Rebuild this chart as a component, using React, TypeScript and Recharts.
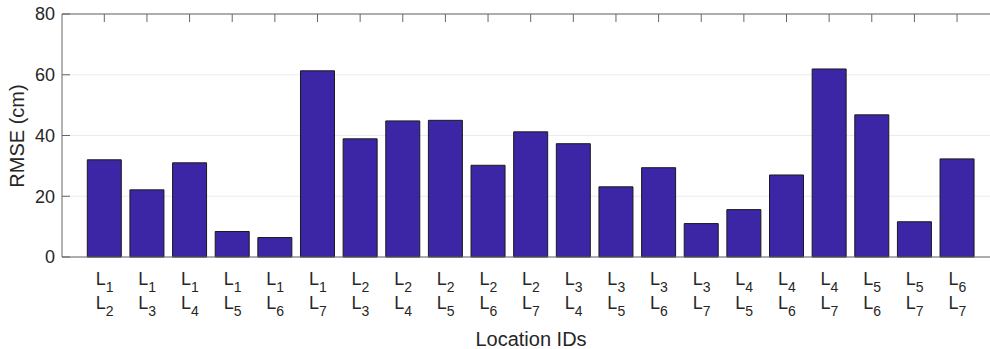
import { FC } from 'react'
import { Bar, BarChart, CartesianGrid, ReferenceLine, XAxis, YAxis } from 'recharts'

// location pair ids and the RMSE of each pair
const firstIds = [1, 1, 1, 1, 1, 1, 2, 2, 2, 2, 2, 3, 3, 3, 3, 4, 4, 4, 5, 5, 6]
const secondIds = [2, 3, 4, 5, 6, 7, 3, 4, 5, 6, 7, 4, 5, 6, 7, 5, 6, 7, 6, 7, 7]
const rmse = [32.0, 22.1, 31.0, 8.4, 6.4, 61.3, 38.9, 44.8, 45.0, 30.2, 41.2, 37.3, 23.1, 29.4, 11.0, 15.6, 27.0, 61.9, 46.8, 11.6, 32.3]
const yTicks = [0, 20, 40, 60, 80]

const data = rmse.map((v, i) => ({ pair: `L${firstIds[i]}-L${secondIds[i]}`, rmse: v }))

const font = '"Liberation Sans", Arial, Helvetica, sans-serif'
const textColor = '#262626'
const axisColor = '#666666'

const PairTick: FC<any> = ({ x, y, index }) => (
  <g>
    <text x={x} y={y + 28} textAnchor="middle" fontSize={18} fill={textColor} fontFamily={font}>
      <tspan>L</tspan>
      <tspan fontSize={14} dy={7}>{firstIds[index]}</tspan>
    </text>
    <text x={x} y={y + 52} textAnchor="middle" fontSize={18} fill={textColor} fontFamily={font}>
      <tspan>L</tspan>
      <tspan fontSize={14} dy={7}>{secondIds[index]}</tspan>
    </text>
  </g>
)

// bar slot background -> small tick hanging from the top box edge
const TopTick: FC<any> = ({ x, y, width }) => (
  <line x1={x + width / 2} x2={x + width / 2} y1={y} y2={y + 8} stroke={axisColor} />
)

const ValueTick: FC<any> = ({ x, y, payload }) => (
  <g>
    <line x1={x} x2={x + 8} y1={y} y2={y} stroke={axisColor} />
    <text x={x - 7} y={y} dy="0.36em" textAnchor="end" fontSize={18} fill={textColor} fontFamily={font}>
      {payload.value}
    </text>
  </g>
)

const App: FC = () => (
  <div style={{ position: 'absolute', left: 0, top: 0, width: 990, height: 349, overflow: 'hidden', background: '#fff' }}>
    <BarChart width={1010} height={349} data={data} margin={{ top: 14, right: 10, bottom: 0, left: 0 }}>
      <CartesianGrid vertical={false} stroke="#ebebeb" />
      <XAxis
        dataKey="pair"
        height={92}
        interval={0}
        padding={{ left: 21.3, right: 21.3 }}
        tickLine={false}
        tickSize={0}
        tickMargin={0}
        axisLine={{ stroke: axisColor }}
        tick={<PairTick />}
      />
      <YAxis
        width={62}
        domain={[0, 80]}
        ticks={yTicks}
        interval={0}
        tickSize={0}
        tickMargin={0}
        tickLine={false}
        axisLine={{ stroke: axisColor }}
        tick={<ValueTick />}
      />
      <ReferenceLine y={80} stroke={axisColor} />
      <Bar
        dataKey="rmse"
        barSize={34}
        fill="#3c26a6"
        stroke="#1a1a1a"
        strokeWidth={1}
        background={<TopTick />}
        isAnimationActive={false}
      />
      <text x={24} y={136} transform="rotate(-90 24 136)" textAnchor="middle" fontSize={20} fill={textColor} fontFamily={font}>
        RMSE (cm)
      </text>
      <text x={531} y={346} textAnchor="middle" fontSize={20} fill={textColor} fontFamily={font}>
        Location IDs
      </text>
    </BarChart>
  </div>
)

export default App
